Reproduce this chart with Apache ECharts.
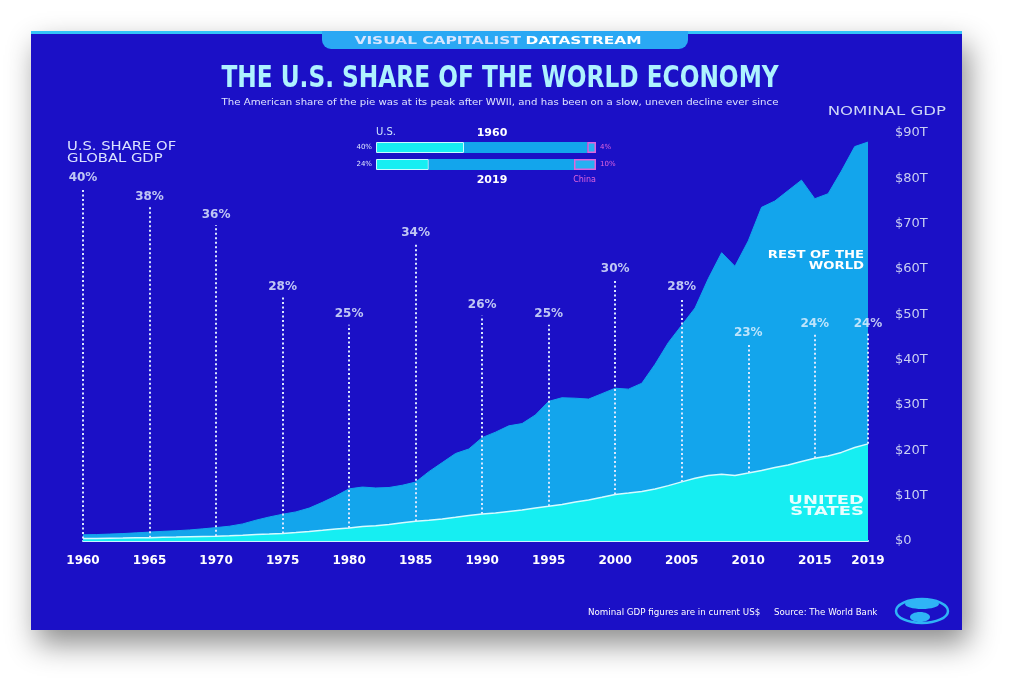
<!DOCTYPE html>
<html>
<head>
<meta charset="utf-8" />
<title>The U.S. Share of the World Economy</title>
<script src="https://cdn.jsdelivr.net/npm/echarts@6/dist/echarts.min.js"></script>
<style>
  html, body { margin: 0; padding: 0; background: #ffffff; }
  #chart { width: 1024px; height: 693px; }
</style>
</head>
<body>
<div id="chart"></div>
<script>
// ---- data (US$ trillions, current prices) ----
var years = [];
for (var y = 1960; y <= 2019; y++) years.push(String(y));

var worldGdp = [
  1.37, 1.42, 1.53, 1.64, 1.80, 1.96, 2.13, 2.26, 2.44, 2.68,
  2.96, 3.26, 3.77, 4.59, 5.30, 5.90, 6.42, 7.26, 8.54, 9.93,
  11.5, 11.9, 11.7, 11.8, 12.3, 13.0, 15.3, 17.3, 19.3, 20.3,
  22.8, 24.0, 25.4, 25.9, 27.8, 30.8, 31.6, 31.5, 31.3, 32.5,
  33.7, 33.5, 34.8, 39.0, 43.8, 47.6, 51.4, 57.9, 63.6, 60.6,
  66.2, 73.6, 75.0, 77.3, 79.6, 75.5, 76.6, 81.6, 87.0, 88.0
];
var usGdp = [
  0.54, 0.56, 0.61, 0.64, 0.69, 0.74, 0.82, 0.86, 0.94, 1.02,
  1.07, 1.17, 1.28, 1.43, 1.55, 1.68, 1.87, 2.08, 2.35, 2.63,
  2.86, 3.21, 3.34, 3.63, 4.04, 4.34, 4.58, 4.86, 5.24, 5.64,
  5.96, 6.16, 6.52, 6.86, 7.29, 7.64, 8.07, 8.58, 9.06, 9.63,
  10.25, 10.58, 10.94, 11.46, 12.21, 13.04, 13.82, 14.45, 14.71, 14.45,
  14.99, 15.54, 16.20, 16.78, 17.53, 18.24, 18.75, 19.54, 20.61, 21.43
];

// U.S. share of global GDP, called out every five years
var shareYears = ['1960', '1965', '1970', '1975', '1980', '1985', '1990', '1995', '2000', '2005', '2010', '2015', '2019'];
var sharePct = [40, 38, 36, 28, 25, 34, 26, 25, 30, 28, 23, 24, 24];

// 1960 vs 2019 comparison bar
var compareYears = ['1960', '2019'];
var compareUs = [40, 24];
var compareChina = [4, 10];
var compareRest = compareUs.map(function (v, i) { return 100 - v - compareChina[i]; });

var gdpTicks = { min: 0, max: 90, interval: 10 };

// share labels sit on a 0-45% scale drawn over the same plot height as 0-90T
var SHARE_SCALE = gdpTicks.max / 45;

var BG = '#1b10c6';
var LIGHT_BLUE = '#13a5ec';
var CYAN = '#16eef2';
var PINK = '#e064dc';
var FONT = "'DejaVu Sans', 'Noto Sans', sans-serif";

// plain text helper for the graphic layer
function txt(x, y, text, size, color, opts) {
  opts = opts || {};
  return {
    type: 'text', z: opts.z || 5, x: x, y: y, scaleX: opts.sx || 1,
    style: {
      text: text, align: opts.align || 'left', verticalAlign: 'middle',
      fontFamily: opts.family || FONT, fontWeight: opts.bold ? 'bold' : 'normal',
      fontSize: size, fill: color, lineHeight: opts.lh
    }
  };
}

var chart = echarts.init(document.getElementById('chart'), null, { renderer: 'canvas' });

var option = {
  animation: false,
  backgroundColor: '#ffffff',
  textStyle: { fontFamily: FONT },
  graphic: [
    { type: 'rect', z: -10, shape: { x: 31, y: 31, width: 931, height: 599 },
      style: { fill: BG, shadowBlur: 28, shadowColor: 'rgba(0,0,0,0.45)', shadowOffsetX: 6, shadowOffsetY: 14 } },
    { type: 'rect', z: -9, shape: { x: 31, y: 31, width: 931, height: 3 }, style: { fill: '#34c4f8' } },
    { type: 'rect', z: -9, shape: { x: 322, y: 31, width: 366, height: 18, r: [0, 0, 9, 9] }, style: { fill: '#2aa8f4' } },
    { type: 'text', z: 5, x: 498, y: 41, scaleX: 1.4, style: {
        text: '{a|VISUAL CAPITALIST} {b|DATASTREAM}', align: 'center', verticalAlign: 'middle',
        rich: {
          a: { fontFamily: FONT, fontWeight: 'bold', fontSize: 11, fill: '#d6e6ff' },
          b: { fontFamily: FONT, fontWeight: 'bold', fontSize: 11, fill: '#ffffff' }
        } } },
    txt(500, 79, 'THE U.S. SHARE OF THE WORLD ECONOMY', 30, '#aef2ff', { align: 'center', bold: true, sx: 0.775 }),
    txt(500, 103, 'The American share of the pie was at its peak after WWII, and has been on a slow, uneven decline ever since',
      9, '#dfe4ff', { align: 'center', sx: 1.13 }),
    txt(946, 112, 'NOMINAL GDP', 12, '#cdd6f6', { align: 'right', sx: 1.38 }),
    txt(67, 153, 'U.S. SHARE OF\nGLOBAL GDP', 12, '#dbe2ff', { lh: 12, sx: 1.23 }),
    // comparison bar captions
    txt(376, 132, 'U.S.', 10, '#cfe6ff'),
    txt(492, 133, '1960', 11, '#ffffff', { align: 'center', bold: true }),
    txt(492, 180, '2019', 11, '#ffffff', { align: 'center', bold: true }),
    txt(596, 180, 'China', 8, PINK, { align: 'right' }),
    // area captions
    txt(864, 261, 'REST OF THE\nWORLD', 11, '#ffffff', { align: 'right', bold: true, lh: 11, sx: 1.2, z: 100 }),
    txt(864, 506, 'UNITED\nSTATES', 13, 'rgba(255,255,255,0.9)', { align: 'right', bold: true, lh: 11, sx: 1.38, z: 100 }),
    // footer
    txt(588, 613, 'Nominal GDP figures are in current US$', 8, '#ffffff', { sx: 1.09 }),
    txt(774, 613, 'Source: The World Bank', 8, '#ffffff', { sx: 1.08 }),
    // logo
    { type: 'ellipse', z: 5, shape: { cx: 922, cy: 611, rx: 26, ry: 12 }, style: { fill: 'none', stroke: '#2fb4f6', lineWidth: 2.5 } },
    { type: 'ellipse', z: 5, shape: { cx: 922, cy: 604, rx: 17, ry: 5 }, style: { fill: '#2fb4f6' } },
    { type: 'ellipse', z: 5, shape: { cx: 920, cy: 617, rx: 10, ry: 5 }, style: { fill: '#2fb4f6' } }
  ],
  grid: [
    { left: 83, right: 156, top: 133, bottom: 152 },
    { left: 376, width: 220, top: 139, height: 34 }
  ],
  xAxis: [
    {
      gridIndex: 0, type: 'category', data: years, boundaryGap: false,
      axisLine: { show: true, lineStyle: { color: '#c8f6ff', width: 2 } },
      axisTick: { show: false },
      splitLine: { show: false },
      axisLabel: {
        margin: 14, color: '#ffffff', fontFamily: FONT, fontWeight: 'bold', fontSize: 12,
        interval: function (idx, val) { return shareYears.indexOf(val) >= 0; }
      }
    },
    { gridIndex: 1, type: 'value', min: 0, max: 100, show: false }
  ],
  yAxis: [
    {
      gridIndex: 0, type: 'value', position: 'right',
      min: gdpTicks.min, max: gdpTicks.max, interval: gdpTicks.interval,
      axisLine: { show: false }, axisTick: { show: false }, splitLine: { show: false },
      axisLabel: {
        margin: 27, color: '#c9cff2', fontFamily: FONT, fontSize: 13,
        formatter: function (v) { return '$' + v + (v === 0 ? '' : 'T'); }
      }
    },
    { gridIndex: 1, type: 'category', data: compareYears, inverse: true, show: false }
  ],
  series: [
    {
      name: 'World', type: 'line', xAxisIndex: 0, yAxisIndex: 0, data: worldGdp,
      showSymbol: false, symbol: 'none', z: 2,
      lineStyle: { color: LIGHT_BLUE, width: 1 },
      areaStyle: { color: LIGHT_BLUE, opacity: 1 }
    },
    {
      name: 'United States', type: 'line', xAxisIndex: 0, yAxisIndex: 0, data: usGdp,
      showSymbol: false, symbol: 'none', z: 3,
      lineStyle: { color: '#d6fbff', width: 1.5 },
      areaStyle: { color: CYAN, opacity: 1 }
    },
    {
      name: 'Share', type: 'scatter', xAxisIndex: 0, yAxisIndex: 0, z: 5,
      symbolSize: 1, itemStyle: { color: 'rgba(0,0,0,0)' },
      data: shareYears.map(function (yr, i) { return [yr, sharePct[i] * SHARE_SCALE]; }),
      label: {
        show: true, position: 'inside', color: '#e8f4ff', fontFamily: FONT, fontWeight: 'bold', fontSize: 12,
        formatter: function (p) { return sharePct[p.dataIndex] + '%'; }
      },
      markLine: {
        silent: true, symbol: 'none', label: { show: false },
        lineStyle: { type: [2, 2.5], width: 2, color: '#dbe8ff', opacity: 1 },
        data: shareYears.map(function (yr, i) {
          var us = usGdp[years.indexOf(yr)];
          return [{ coord: [yr, us] }, { coord: [yr, sharePct[i] * SHARE_SCALE - 2.3] }];
        })
      }
    },
    {
      name: 'US share', type: 'bar', xAxisIndex: 1, yAxisIndex: 1, stack: 'cmp', barWidth: 11,
      data: compareUs,
      itemStyle: { color: CYAN, borderColor: '#c8fbff', borderWidth: 1 },
      label: { show: true, position: 'left', distance: 4, color: '#dfe6ff', fontFamily: FONT, fontSize: 7,
        formatter: function (p) { return p.value + '%'; } }
    },
    {
      name: 'Rest', type: 'bar', xAxisIndex: 1, yAxisIndex: 1, stack: 'cmp', barWidth: 11,
      data: compareRest,
      itemStyle: { color: LIGHT_BLUE }
    },
    {
      name: 'China', type: 'bar', xAxisIndex: 1, yAxisIndex: 1, stack: 'cmp', barWidth: 11,
      data: compareChina,
      itemStyle: { color: '#27b0f2', borderColor: PINK, borderWidth: 1.5 },
      label: { show: true, position: 'right', distance: 4, color: PINK, fontFamily: FONT, fontSize: 7,
        formatter: function (p) { return p.value + '%'; } }
    }
  ]
};

chart.setOption(option);
</script>
</body>
</html>
